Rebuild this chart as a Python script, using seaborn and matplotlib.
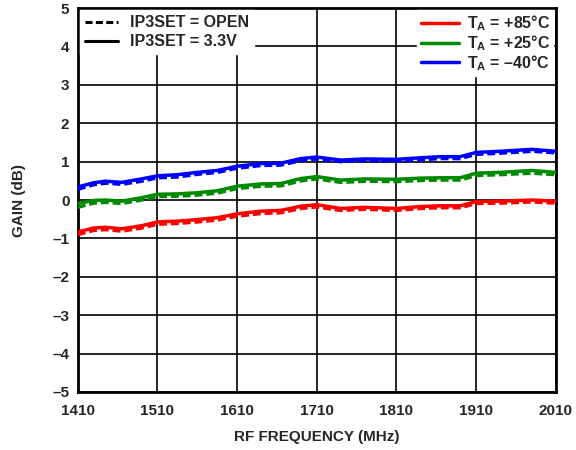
import matplotlib
matplotlib.use('Agg')
import matplotlib.pyplot as plt
from matplotlib.lines import Line2D
import seaborn as sns
import pandas as pd

freq = [1410, 1430, 1445, 1465, 1490, 1510, 1535, 1560, 1585, 1610, 1640, 1665,
        1690, 1710, 1740, 1770, 1810, 1840, 1865, 1890, 1910, 1940, 1980, 2010]

blue_solid = [0.34, 0.45, 0.49, 0.46, 0.55, 0.63, 0.66, 0.72, 0.77, 0.88, 0.95, 0.96,
              1.08, 1.12, 1.04, 1.07, 1.06, 1.10, 1.13, 1.13, 1.24, 1.27, 1.32, 1.27]
blue_dashed = [0.28, 0.40, 0.44, 0.41, 0.49, 0.58, 0.60, 0.67, 0.72, 0.83, 0.90, 0.91,
               1.03, 1.07, 1.00, 1.03, 1.02, 1.05, 1.08, 1.08, 1.19, 1.22, 1.27, 1.23]
green_solid = [-0.09, -0.01, 0.0, -0.03, 0.06, 0.15, 0.16, 0.19, 0.24, 0.36, 0.42, 0.43,
               0.56, 0.61, 0.52, 0.55, 0.54, 0.57, 0.58, 0.58, 0.70, 0.72, 0.77, 0.72]
green_dashed = [-0.19, -0.08, -0.06, -0.09, 0.0, 0.09, 0.10, 0.13, 0.18, 0.30, 0.36, 0.37,
                0.50, 0.55, 0.46, 0.49, 0.48, 0.51, 0.52, 0.52, 0.64, 0.66, 0.70, 0.66]
red_solid = [-0.83, -0.73, -0.71, -0.75, -0.67, -0.57, -0.55, -0.51, -0.46, -0.36, -0.29, -0.27,
             -0.16, -0.12, -0.22, -0.19, -0.22, -0.17, -0.15, -0.15, -0.04, -0.03, 0.0, -0.03]
red_dashed = [-0.90, -0.79, -0.77, -0.81, -0.73, -0.63, -0.61, -0.57, -0.52, -0.42, -0.35, -0.33,
              -0.22, -0.18, -0.27, -0.24, -0.27, -0.22, -0.20, -0.20, -0.09, -0.08, -0.05, -0.08]

temps = ['+85', '+25', '\u201340']
modes = ['OPEN', '3.3V']
xticks = [1410, 1510, 1610, 1710, 1810, 1910, 2010]
yticks = list(range(-5, 6))

series = {
    ('+85', 'OPEN'): red_dashed, ('+85', '3.3V'): red_solid,
    ('+25', 'OPEN'): green_dashed, ('+25', '3.3V'): green_solid,
    ('\u201340', 'OPEN'): blue_dashed, ('\u201340', '3.3V'): blue_solid,
}
rows = []
for (t, m), vals in series.items():
    for f, g in zip(freq, vals):
        rows.append({'freq': f, 'gain': g, 'temp': t, 'mode': m})
df = pd.DataFrame(rows)

sns.set_style('white')
plt.rcParams['font.family'] = ['Liberation Sans', 'DejaVu Sans']
plt.rcParams['font.weight'] = 'bold'
plt.rcParams['mathtext.fontset'] = 'custom'
plt.rcParams['mathtext.rm'] = 'Liberation Sans:bold'
plt.rcParams['mathtext.bf'] = 'Liberation Sans:bold'
plt.rcParams['mathtext.it'] = 'Liberation Sans:bold'

colors = {'+85': '#ff0000', '+25': '#008a00', '\u201340': '#0000ff'}

fig = plt.figure(figsize=(5.76, 4.5), dpi=100)
ax = fig.add_axes([0.135, 0.129, 0.83, 0.853])

sns.lineplot(data=df, x='freq', y='gain', hue='temp', style='mode',
             palette=colors, dashes={'OPEN': (2.3, 1.1), '3.3V': ''},
             linewidth=2.5, legend=False, ax=ax, zorder=3)

ax.set_xlim(1410, 2010)
ax.set_ylim(-5, 5)
ax.set_xticks(xticks)
ax.set_yticks(yticks)
ax.set_yticklabels([str(v).replace('-', '\u2013') for v in yticks])
ax.grid(True, color='black', linewidth=1.2)
ax.tick_params(length=0, labelsize=11)
ax.tick_params(axis='x', pad=9)
ax.tick_params(axis='y', pad=6)
for s in ax.spines.values():
    s.set_linewidth(2)
    s.set_color('black')
ax.set_xlabel('RF FREQUENCY (MHz)', fontsize=11, fontweight='bold', labelpad=8)
ax.set_ylabel('GAIN (dB)', fontsize=11, fontweight='bold', labelpad=19)

h1 = [Line2D([], [], color='black', lw=2.2, dashes=(2.3, 1.1)),
      Line2D([], [], color='black', lw=2.2)]
leg1 = ax.legend(h1, ['IP3SET = OPEN', 'IP3SET = 3.3V'], loc='upper left',
                 frameon=True, fancybox=False, edgecolor='white', framealpha=1,
                 fontsize=11.5, handlelength=2.1, handletextpad=0.7,
                 labelspacing=0.25, borderaxespad=0.15, borderpad=0.3)
leg1.set_zorder(5)
ax.add_artist(leg1)

h2 = [Line2D([], [], color=colors[t], lw=2.5) for t in temps]
leg2 = ax.legend(h2, [r'T$_\mathregular{A}$ = ' + t + '\u00b0C' for t in temps],
                 loc='upper right', frameon=True, fancybox=False, edgecolor='white',
                 framealpha=1, fontsize=11.5, handlelength=2.4, handletextpad=0.5,
                 labelspacing=0.0, borderaxespad=0.15, borderpad=0.2)
leg2.set_zorder(5)

fig.savefig('out.png', dpi=100)
